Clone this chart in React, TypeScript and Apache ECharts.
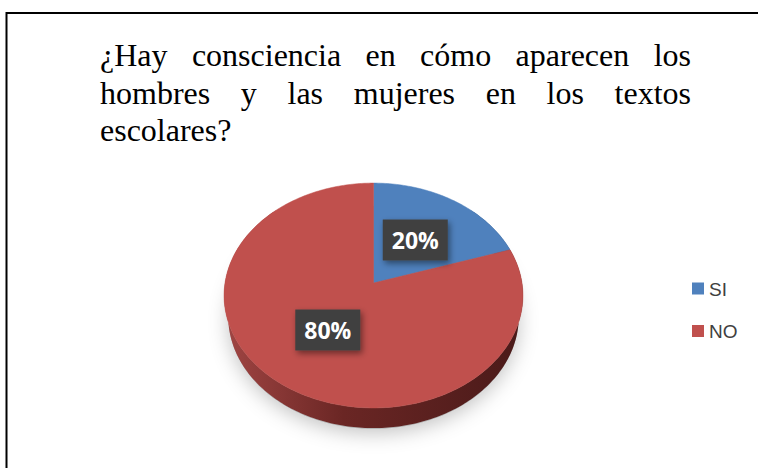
import React, { useEffect, useRef } from "react";
import * as echarts from "echarts";

// ---- data ----
const categories = ["SI", "NO"];
const values = [20, 80];
const labels = ["20%", "80%"];
const colors = ["#4F81BD", "#C0504D"];
const sideColors = [
  ["#6f9fd6", "#3a6396", "#243f60"],
  ["#a04543", "#6a2624", "#4a1a19"],
];
const titleLines = [
  "¿Hay consciencia en cómo aparecen los",
  "hombres y las mujeres en los textos",
  "escolares?",
];

// ---- projection (layout) ----
const PHI = (48.4 * Math.PI) / 180;
const D = 5.97;
const K = 886.5;
const CX = 373.5;
const CY = 283;
const H = 0.223;

function proj(r: number, th: number, yw: number): number[] {
  const X = r * Math.sin(th);
  const Z = r * Math.cos(th);
  const yc = yw * Math.cos(PHI) + Z * Math.sin(PHI);
  const zc = D + Z * Math.cos(PHI) - yw * Math.sin(PHI);
  return [CX + (K * X) / zc, CY - (K * yc) / zc];
}

function sliceAngles(i: number): number[] {
  const total = values.reduce((a, b) => a + b, 0);
  let start = 0;
  for (let k = 0; k < i; k++) start += values[k];
  const a0 = (start / total) * Math.PI * 2;
  const a1 = ((start + values[i]) / total) * Math.PI * 2;
  return [a0, a1];
}

function arcPoints(a0: number, a1: number, yw: number, r = 1): number[][] {
  const pts: number[][] = [];
  const steps = Math.max(2, Math.ceil(((a1 - a0) * 180) / Math.PI));
  for (let s = 0; s <= steps; s++) {
    const t = a0 + ((a1 - a0) * s) / steps;
    pts.push(proj(r, t, yw));
  }
  return pts;
}

function measure(text: string, font: string): number {
  const c = document.createElement("canvas");
  const ctx = c.getContext("2d")!;
  ctx.font = font;
  return ctx.measureText(text).width;
}

export default function App() {
  const ref = useRef<HTMLDivElement>(null);

  useEffect(() => {
    document.body.style.margin = "0";
    if (!ref.current) return;
    const chart = echarts.init(ref.current, null, { renderer: "svg" });

    // Title: justified lines built from word texts
    const titleFont = '32px "Liberation Serif"';
    const left = 100;
    const right = 691;
    const baselines = [66, 103.5, 141];
    const titleEls: any[] = [];
    titleLines.forEach((line, li) => {
      const words = line.split(" ");
      const widths = words.map((w) => measure(w, titleFont));
      const totalW = widths.reduce((a, b) => a + b, 0);
      const isLast = li === titleLines.length - 1;
      const gap =
        !isLast && words.length > 1
          ? (right - left - totalW) / (words.length - 1)
          : measure(" ", titleFont);
      let x = left;
      words.forEach((w, wi) => {
        titleEls.push({
          type: "text",
          x,
          y: baselines[li] - 10.8,
          style: {
            text: w,
            fill: "#000",
            font: titleFont,
            align: "left",
            verticalAlign: "middle",
          },
        });
        x += widths[wi] + gap;
      });
    });

    // Legend
    const legendEls: any[] = [];
    const legendY = [289, 331.5];
    categories.forEach((c, i) => {
      legendEls.push({
        type: "rect",
        shape: { x: 692, y: legendY[i] - 6.5, width: 12, height: 12 },
        style: { fill: colors[i] },
      });
      legendEls.push({
        type: "text",
        x: 709,
        y: legendY[i],
        style: {
          text: c,
          fill: "#404040",
          font: '19px "Liberation Sans"',
          align: "left",
          verticalAlign: "middle",
        },
      });
    });

    const data = values.map((v, i) => ({ value: v, name: categories[i] }));

    const option: any = {
      animation: false,
      backgroundColor: "#fff",
      graphic: [
        {
          type: "line",
          shape: { x1: 6, y1: 13, x2: 758, y2: 13 },
          style: { stroke: "#000", lineWidth: 2 },
        },
        {
          type: "line",
          shape: { x1: 6.5, y1: 12, x2: 6.5, y2: 468 },
          style: { stroke: "#000", lineWidth: 2 },
        },
        ...titleEls,
        ...legendEls,
      ],
      series: [
        {
          type: "custom",
          name: "sides",
          coordinateSystem: "none",
          z: 1,
          data,
          renderItem: (params: any) => {
            const i = params.dataIndex;
            const [a0, a1] = sliceAngles(i);
            const children: any[] = [];
            if (i === 0) {
              // soft drop shadow under the whole pie
              const sh = arcPoints(0, Math.PI * 2, -H - 0.01, 1.0);
              children.push({
                type: "polygon",
                shape: { points: sh },
                style: {
                  fill: "rgba(150,150,150,0.6)",
                  shadowBlur: 20,
                  shadowColor: "rgba(0,0,0,0.4)",
                  shadowOffsetY: 4,
                },
              });
            }
            const lo = Math.max(a0, (45 * Math.PI) / 180);
            const hi = Math.min(a1, (315 * Math.PI) / 180);
            if (hi > lo) {
              const top = arcPoints(lo, hi, 0);
              const bottom = arcPoints(lo, hi, -H).reverse();
              children.push({
                type: "polygon",
                shape: { points: top.concat(bottom) },
                style: {
                  fill: {
                    type: "linear",
                    x: 225,
                    y: 0,
                    x2: 522,
                    y2: 0,
                    global: true,
                    colorStops: [
                      { offset: 0, color: sideColors[i][0] },
                      { offset: 0.4, color: sideColors[i][1] },
                      { offset: 1, color: sideColors[i][2] },
                    ],
                  },
                },
              });
            }
            return { type: "group", children };
          },
        },
        {
          type: "custom",
          name: "tops",
          coordinateSystem: "none",
          z: 2,
          data,
          renderItem: (params: any) => {
            const i = params.dataIndex;
            const [a0, a1] = sliceAngles(i);
            const pts = [proj(0, 0, 0)].concat(arcPoints(a0, a1, 0));
            const mid = (a0 + a1) / 2;
            const lp = proj(0.5, mid, 0);
            return {
              type: "group",
              children: [
                {
                  type: "polygon",
                  shape: { points: pts },
                  style: { fill: colors[i], stroke: colors[i], lineWidth: 0.5 },
                },
                {
                  type: "text",
                  z2: 10,
                  x: lp[0],
                  y: lp[1],
                  style: {
                    text: labels[i],
                    fill: "#fff",
                    fontSize: 23,
                    fontWeight: "bold",
                    fontFamily: '"Open Sans"',
                    lineHeight: 25,
                    align: "center",
                    verticalAlign: "middle",
                    backgroundColor: "#404040",
                    padding: [8, 9, 8, 9],
                    shadowBlur: 6,
                    shadowColor: "rgba(0,0,0,0.45)",
                    shadowOffsetX: 2,
                    shadowOffsetY: 3,
                  },
                },
              ],
            };
          },
        },
      ],
    };

    chart.setOption(option);
    return () => chart.dispose();
  }, []);

  return <div ref={ref} style={{ width: 758, height: 468 }} />;
}
